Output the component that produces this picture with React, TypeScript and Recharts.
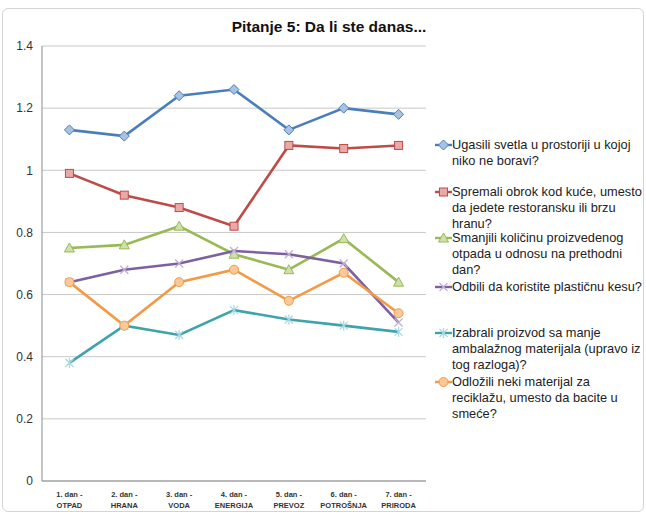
import React from 'react';
import { LineChart, Line, XAxis, YAxis, CartesianGrid } from 'recharts';

// Category labels (two lines per day)
const dayLabels = ['1. dan -', '2. dan -', '3. dan -', '4. dan -', '5. dan -', '6. dan -', '7. dan -'];
const themeLabels = ['OTPAD', 'HRANA', 'VODA', 'ENERGIJA', 'PREVOZ', 'POTROŠNJA', 'PRIRODA'];

// Series values per day
const ugasiliSvetla = [1.13, 1.11, 1.24, 1.26, 1.13, 1.2, 1.18];
const spremaliObrok = [0.99, 0.92, 0.88, 0.82, 1.08, 1.07, 1.08];
const smanjiliOtpad = [0.75, 0.76, 0.82, 0.73, 0.68, 0.78, 0.64];
const odbiliKesu = [0.64, 0.68, 0.7, 0.74, 0.73, 0.7, 0.51];
const izabraliProizvod = [0.38, 0.5, 0.47, 0.55, 0.52, 0.5, 0.48];
const odloziliMaterijal = [0.64, 0.5, 0.64, 0.68, 0.58, 0.67, 0.54];

const yTicks = [0, 0.2, 0.4, 0.6, 0.8, 1, 1.2, 1.4];

const data = dayLabels.map((d, i) => ({
  day: i,
  s1: ugasiliSvetla[i],
  s2: spremaliObrok[i],
  s3: smanjiliOtpad[i],
  s4: odbiliKesu[i],
  s5: izabraliProizvod[i],
  s6: odloziliMaterijal[i],
}));

type MarkerKind = 'diamond' | 'square' | 'triangle' | 'x' | 'star' | 'circle';

const series: { key: string; color: string; fill: string; marker: MarkerKind; label: string[]; top: number }[] = [
  { key: 's1', color: '#4A7EBB', fill: '#A9C1E3', marker: 'diamond', label: ['Ugasili svetla u prostoriji u kojoj', 'niko ne boravi?'], top: 137 },
  { key: 's2', color: '#BE4B48', fill: '#E9A9A7', marker: 'square', label: ['Spremali obrok kod kuće, umesto', 'da jedete restoransku ili brzu', 'hranu?'], top: 184 },
  { key: 's3', color: '#98B954', fill: '#CFE0A8', marker: 'triangle', label: ['Smanjili količinu proizvedenog', 'otpada u odnosu na prethodni', 'dan?'], top: 230 },
  { key: 's4', color: '#7D60A0', fill: '#BFB0D4', marker: 'x', label: ['Odbili da koristite plastičnu kesu?'], top: 279 },
  { key: 's5', color: '#3FA3AE', fill: '#A9D8E0', marker: 'star', label: ['Izabrali proizvod sa manje', 'ambalažnog materijala (upravo iz', 'tog razloga)?'], top: 325 },
  { key: 's6', color: '#F39A45', fill: '#F9C99A', marker: 'circle', label: ['Odložili neki materijal za', 'reciklažu, umesto da bacite u', 'smeće?'], top: 374 },
];

function Marker({ kind, cx, cy, color, fill }: { kind: MarkerKind; cx: number; cy: number; color: string; fill: string }) {
  const s = 4;
  switch (kind) {
    case 'diamond':
      return <polygon points={`${cx},${cy - s - 1} ${cx + s + 1},${cy} ${cx},${cy + s + 1} ${cx - s - 1},${cy}`} fill={fill} stroke={color} strokeWidth={1} />;
    case 'square':
      return <rect x={cx - s} y={cy - s} width={s * 2} height={s * 2} fill={fill} stroke={color} strokeWidth={1} />;
    case 'triangle':
      return <polygon points={`${cx},${cy - s - 1} ${cx + s + 1},${cy + s} ${cx - s - 1},${cy + s}`} fill={fill} stroke={color} strokeWidth={1} />;
    case 'x':
      return (
        <g stroke={fill} strokeWidth={1.3}>
          <line x1={cx - s} y1={cy - s} x2={cx + s} y2={cy + s} />
          <line x1={cx - s} y1={cy + s} x2={cx + s} y2={cy - s} />
        </g>
      );
    case 'star':
      return (
        <g stroke={fill} strokeWidth={1.3}>
          <line x1={cx - s} y1={cy - s} x2={cx + s} y2={cy + s} />
          <line x1={cx - s} y1={cy + s} x2={cx + s} y2={cy - s} />
          <line x1={cx} y1={cy - s - 1} x2={cx} y2={cy + s + 1} />
        </g>
      );
    case 'circle':
    default:
      return <circle cx={cx} cy={cy} r={s + 0.5} fill={fill} stroke={color} strokeWidth={1} />;
  }
}

const makeDot = (kind: MarkerKind, color: string, fill: string) => (props: any) => {
  const { cx, cy, index } = props;
  if (cx == null || cy == null) return <g key={index} />;
  return <Marker key={index} kind={kind} cx={cx} cy={cy} color={color} fill={fill} />;
};

const XTick = (props: any) => {
  const { x, y, payload } = props;
  const i = payload.value as number;
  return (
    <g>
      <text x={x} y={y + 16} textAnchor="middle" fontSize={7.5} fontWeight="bold" fill="#333">
        {dayLabels[i]}
      </text>
      <text x={x} y={y + 27} textAnchor="middle" fontSize={7.5} fontWeight="bold" fill="#333">
        {themeLabels[i]}
      </text>
    </g>
  );
};

const fmt = (v: number) => String(Number(v.toFixed(1)));

export default function App() {
  return (
    <div
      style={{
        position: 'absolute',
        left: 0,
        top: 0,
        width: 646,
        height: 514,
        background: '#fff',
        fontFamily: '"Liberation Sans", Arial, sans-serif',
      }}
    >
      <div
        style={{
          position: 'absolute',
          left: 2,
          top: 8,
          width: 640,
          height: 502,
          border: '1px solid #d4d4d4',
          borderRadius: 6,
        }}
      />
      <div
        style={{
          position: 'absolute',
          left: 0,
          width: 658,
          top: 18,
          textAlign: 'center',
          fontWeight: 'bold',
          fontSize: 15.5,
          color: '#111',
        }}
      >
        Pitanje 5: Da li ste danas...
      </div>
      <div style={{ position: 'absolute', left: 0, top: 0 }}>
        <LineChart
          width={646}
          height={514}
          data={data}
          margin={{ top: 46, right: 220, bottom: 0, left: 0 }}
          style={{ fontFamily: '"Liberation Sans", Arial, sans-serif' }}
        >
          <CartesianGrid vertical={false} stroke="#c8c8c8" strokeWidth={1} />
          <XAxis
            dataKey="day"
            type="category"
            scale="band"
            height={33}
            tick={<XTick />}
            tickLine={false}
            tickSize={0}
            tickMargin={0}
            axisLine={{ stroke: '#8c8c8c' }}
            interval={0}
          />
          <YAxis
            width={42}
            domain={[0, 1.4]}
            ticks={yTicks}
            tickFormatter={fmt}
            tickLine={false}
            tickSize={0}
            tickMargin={9}
            axisLine={{ stroke: '#8c8c8c' }}
            tick={{ fontSize: 12, fill: '#333' }}
            interval={0}
          />
          {series.map((s) => (
            <Line
              key={s.key}
              type="linear"
              dataKey={s.key}
              stroke={s.color}
              strokeWidth={2.6}
              dot={makeDot(s.marker, s.color, s.fill)}
              activeDot={false}
              isAnimationActive={false}
            />
          ))}
        </LineChart>
      </div>
      {series.map((s) => (
        <div key={s.key} style={{ position: 'absolute', left: 435, top: s.top, width: 210 }}>
          <svg width={17} height={10} style={{ position: 'absolute', left: 0, top: 3 }}>
            <line x1={0} y1={5} x2={17} y2={5} stroke={s.color} strokeWidth={2.4} />
            <Marker kind={s.marker} cx={8.5} cy={5} color={s.color} fill={s.fill} />
          </svg>
          <div style={{ marginLeft: 17, fontSize: 12.8, lineHeight: '16px', color: '#222' }}>
            {s.label.map((l, i) => (
              <div key={i} style={{ whiteSpace: 'nowrap' }}>
                {l}
              </div>
            ))}
          </div>
        </div>
      ))}
    </div>
  );
}
